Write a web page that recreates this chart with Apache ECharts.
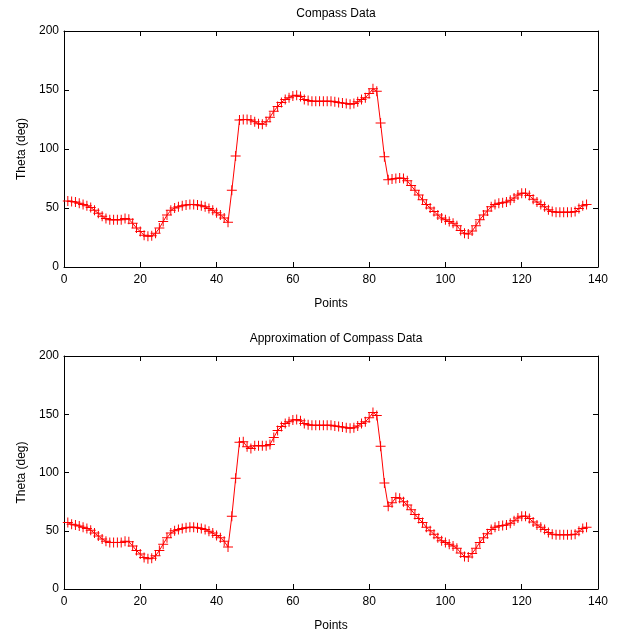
<!DOCTYPE html>
<html lang="en">
<head>
    <meta charset="UTF-8">
    <title>Compass Data</title>
    <script src="https://cdn.jsdelivr.net/npm/echarts@6/dist/echarts.min.js"></script>
    <style>
        html, body{
            margin: 0;
            padding: 0;
            background: #fff;
        }
        #main{
            width: 623px;
            height: 633px;
        }
    </style>
</head>
<body>
<div id="main"></div>
<script>
    // measured compass heading, points 1..137
    var compass = [
        56, 55.5, 55, 54, 53, 52, 50.5, 48, 45.5, 43,
        41, 40, 40, 40, 40, 41, 40.5, 37, 33, 30,
        27, 26, 26.5, 28.5, 33, 38.5, 44, 48, 50, 51,
        52, 52.5, 53, 53, 52.5, 52, 51, 49.5, 48, 46,
        44, 41.5, 38, 65, 94, 124.5, 125, 125, 124.5, 123,
        121.5, 121, 123, 127, 132, 136, 139.5, 142, 143.5, 145,
        145.5, 144.5, 142, 141, 140.5, 140.5, 140.5, 140.5, 140.5, 140.5,
        140, 139.5, 139, 138.5, 138, 138.5, 140, 142, 143.5, 147,
        151, 149, 122, 93.5, 74, 74.5, 75, 75.5, 75, 73,
        69, 65, 61, 57, 53, 50, 47, 44, 41.5, 40,
        38.5, 37, 35, 31, 28.5, 28, 30.5, 35, 40, 44,
        47.5, 51, 53, 54, 54.5, 55, 56.5, 58.5, 61, 62.5,
        62.5, 60.5, 57.5, 55, 53, 51, 48.5, 47, 46.5, 46.5,
        46.5, 46.5, 46.5, 47, 49.5, 52, 53
    ];
    // approximation of the same data
    var approx = [
        57, 55.5, 55, 54, 53, 52, 50.5, 48, 45.5, 43,
        41, 40, 40, 40, 40, 41, 40.5, 37, 33, 30,
        27, 26, 26.5, 28.5, 33, 38.5, 44, 48, 50, 51,
        52, 52.5, 53, 53, 52.5, 52, 51, 49.5, 48, 46,
        44, 41, 36, 62.5, 95, 126, 126.5, 122, 120.5, 123,
        123, 123, 123, 124, 130, 136, 139.5, 142, 143.5, 145,
        145.5, 144.5, 142, 141, 140.5, 140.5, 140.5, 140.5, 140.5, 140.5,
        140, 139.5, 139, 138.5, 138, 138.5, 140, 142, 143.5, 147,
        151.5, 149, 122.5, 91, 71, 74, 78.5, 78, 75, 72,
        68, 64, 60.5, 57, 53, 50, 47, 44, 41.5, 40,
        38.5, 37, 35, 31, 28, 27.5, 30.5, 35, 40, 44,
        47.5, 51, 53, 54, 54.5, 55, 56.5, 58.5, 61, 62.5,
        62.5, 60.5, 57.5, 55, 53, 51, 48.5, 47, 46.5, 46.5,
        46.5, 46.5, 46.5, 47, 49.5, 52, 53
    ];
    var xTicks = [0, 20, 40, 60, 80, 100, 120, 140];
    var yTicks = [0, 50, 100, 150, 200];

    function pairs(arr){
        return arr.map(function(v, i){ return [i + 1, v]; });
    }

    var font = 'Liberation Sans, Arial, sans-serif';
    var plus = 'path://M0,4.5H10V5.5H0Z M4.5,0H5.5V10H4.5Z';

    function xAxis(grid, pos, showLabel, name){
        return {
            type: 'value', gridIndex: grid, position: pos,
            min: xTicks[0], max: xTicks[xTicks.length - 1], interval: 20,
            name: name || '', nameLocation: 'middle', nameGap: 31,
            nameTextStyle: {color: '#000', fontSize: 12, fontFamily: font},
            axisLine: {show: true, onZero: false, lineStyle: {color: '#000', width: 1}},
            axisTick: {show: true, inside: true, length: 5, lineStyle: {color: '#000'}},
            axisLabel: {show: showLabel, color: '#000', fontSize: 12, fontFamily: font, margin: 7},
            splitLine: {show: false}
        };
    }
    function yAxis(grid, pos, showLabel, name){
        return {
            type: 'value', gridIndex: grid, position: pos,
            min: yTicks[0], max: yTicks[yTicks.length - 1], interval: 50,
            name: name || '', nameLocation: 'middle', nameGap: 35,
            nameTextStyle: {color: '#000', fontSize: 12, fontFamily: font},
            axisLine: {show: true, onZero: false, lineStyle: {color: '#000', width: 1}},
            axisTick: {show: true, inside: true, length: 5, lineStyle: {color: '#000'}},
            axisLabel: {show: showLabel, color: '#000', fontSize: 12, fontFamily: font, margin: 5},
            splitLine: {show: false}
        };
    }
    function series(arr, xi, yi){
        return {
            type: 'line', xAxisIndex: xi, yAxisIndex: yi,
            data: pairs(arr),
            symbol: plus, symbolSize: 10,
            itemStyle: {color: '#ff0000'},
            lineStyle: {color: '#ff0000', width: 1},
            animation: false
        };
    }

    var chart = echarts.init(document.getElementById('main'));
    chart.setOption({
        animation: false,
        title: [
            {text: 'Compass Data', left: 331, top: 3, textAlign: 'center',
             textStyle: {fontSize: 12, fontWeight: 'normal', color: '#000', fontFamily: font}},
            {text: 'Approximation of Compass Data', left: 331, top: 328, textAlign: 'center',
             textStyle: {fontSize: 12, fontWeight: 'normal', color: '#000', fontFamily: font}}
        ],
        grid: [
            {left: 64, top: 31, width: 534, height: 236},
            {left: 64, top: 356, width: 534, height: 236}
        ],
        xAxis: [
            xAxis(0, 'bottom', true, 'Points'),
            xAxis(0, 'top', false),
            xAxis(1, 'bottom', true, 'Points'),
            xAxis(1, 'top', false)
        ],
        yAxis: [
            yAxis(0, 'left', true, 'Theta (deg)'),
            yAxis(0, 'right', false),
            yAxis(1, 'left', true, 'Theta (deg)'),
            yAxis(1, 'right', false)
        ],
        series: [
            series(compass, 0, 0),
            series(approx, 2, 2)
        ]
    });
</script>
</body>
</html>
